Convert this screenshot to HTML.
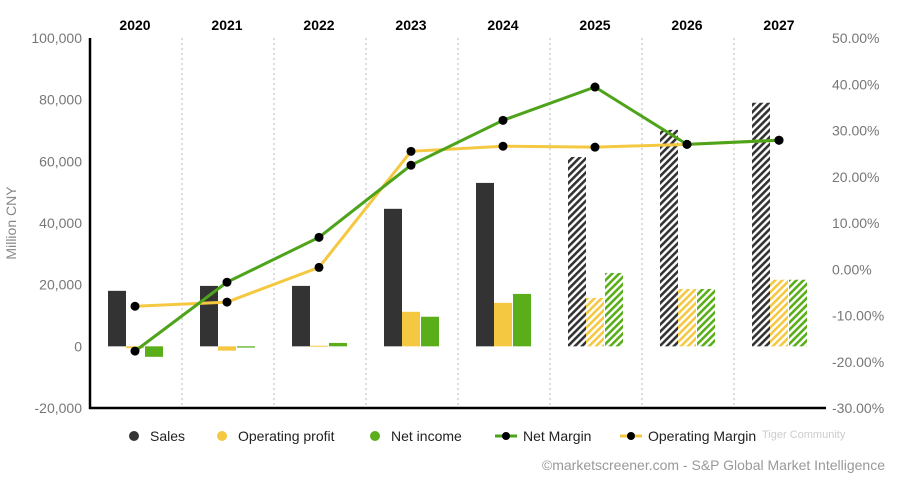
<!DOCTYPE html>
<html><head><meta charset="utf-8"><style>
html,body{margin:0;padding:0;background:#fff;}
svg{display:block;font-family:"Liberation Sans",Arial,sans-serif;}
</style></head><body>
<svg id="chart" width="897" height="483">
<defs>
<pattern id="hatchK" patternUnits="userSpaceOnUse" width="5" height="5" patternTransform="rotate(45)"><rect width="5" height="5" fill="#fff"/><rect width="2.6" height="5" fill="#333"/></pattern>
<pattern id="hatchY" patternUnits="userSpaceOnUse" width="5" height="5" patternTransform="rotate(45)"><rect width="5" height="5" fill="#fff"/><rect width="2.6" height="5" fill="#f5c842"/></pattern>
<pattern id="hatchG" patternUnits="userSpaceOnUse" width="5" height="5" patternTransform="rotate(45)"><rect width="5" height="5" fill="#fff"/><rect width="2.6" height="5" fill="#5aae1a"/></pattern>
</defs>
<g id="grid"></g><g id="bars"></g><g id="lines"></g><g id="axes"></g><g id="legend"></g>
</svg>
<script>
const categories=["2020","2021","2022","2023","2024","2025","2026","2027"];
const sales=[18000,19600,19600,44600,53000,61400,70200,79000];
const opProfit=[-600,-1400,200,11200,14100,15700,18600,21600];
const netIncome=[-3400,-400,1100,9600,17000,23800,18600,21600];
const netMargin=[-17.7,-2.8,6.9,22.5,32.2,39.4,27.0,27.9];
const opMargin=[-8.0,-7.1,0.4,25.5,26.6,26.4,27.0,27.9];
const estimated=[false,false,false,false,false,true,true,true];
const leftTicks=[-20000,0,20000,40000,60000,80000,100000];
const rightTicks=[-30,-20,-10,0,10,20,30,40,50];

const NS="http://www.w3.org/2000/svg";
const X0=90,X1=826,Y0=38,Y1=408;
const step=(X1-X0)/categories.length;
const xc=i=>X0+step*(i+0.5)-1;
const yL=v=>Y1-(v+20000)/120000*(Y1-Y0);
const yR=v=>Y1-(v+30)/80*(Y1-Y0);
function mk(tag,attrs,parent){const e=document.createElementNS(NS,tag);for(const k in attrs)e.setAttribute(k,attrs[k]);parent.appendChild(e);return e;}
const g=id=>document.getElementById(id);

// grid separators
for(let i=1;i<categories.length;i++){
  const l=mk('line',{x1:X0+step*i,x2:X0+step*i,y1:Y0,y2:Y1,stroke:'#bbb','stroke-dasharray':'2,3'},g('grid'));
  
  
}
// category labels
categories.forEach((c,i)=>{
  const t=mk('text',{x:xc(i),y:30,'text-anchor':'middle','font-size':14,'font-weight':'bold',fill:'#000'},g('axes'));
  t.textContent=c;
  
  
});
// bars
const bw=18;
function bar(i,v,off,solid,hatch,name){
  const y0=yL(0),y=yL(v);
  const r=mk('rect',{x:xc(i)+off-bw/2,y:Math.min(y0,y),width:bw,height:Math.max(1,Math.abs(y-y0)),fill:estimated[i]?'url(#'+hatch+')':solid},g('bars'));
  
  
}
categories.forEach((c,i)=>{
  bar(i,sales[i],-18,'#333','hatchK','sales');
  bar(i,opProfit[i],0,'#f5c842','hatchY','operating-profit');
  bar(i,netIncome[i],19,'#5aae1a','hatchG','net-income');
});
// lines
function line(vals,color,name){
  const pts=vals.map((v,i)=>xc(i)+','+yR(v)).join(' ');
  const p=mk('polyline',{points:pts,fill:'none',stroke:color,'stroke-width':3},g('lines'));
  
  
}
line(opMargin,'#f5c842','operating-margin');
line(netMargin,'#4da31a','net-margin');
[[netMargin,'net-margin'],[opMargin,'operating-margin']].forEach(([vals,n])=>{
  vals.forEach((v,i)=>{
    const c=mk('circle',{cx:xc(i),cy:yR(v),r:4.5,fill:'#000'},g('lines'));
    
    
  });
});
// axes
const la=mk('line',{x1:X0,x2:X0,y1:Y0,y2:Y1+1,stroke:'#000','stroke-width':2.5},g('axes'));


const ba=mk('line',{x1:X0-1,x2:X1,y1:Y1,y2:Y1,stroke:'#000','stroke-width':2.5},g('axes'));


leftTicks.forEach(v=>{
  const t=mk('text',{x:82,y:yL(v)+5,'text-anchor':'end','font-size':14,fill:'#777'},g('axes'));
  t.textContent=v.toLocaleString('en-US');
  
  
});
rightTicks.forEach(v=>{
  const t=mk('text',{x:832,y:yR(v)+5,'text-anchor':'start','font-size':14,fill:'#777'},g('axes'));
  t.textContent=v.toFixed(2)+'%';
  
  
});
const yt=mk('text',{x:16,y:223,'text-anchor':'middle','font-size':14,fill:'#888',transform:'rotate(-90 16 223)'},g('axes'));
yt.textContent='Million CNY';


// legend
const L=g('legend');
const items=[['Sales','#333',false,129],['Operating profit','#f5c842',false,217],['Net income','#5aae1a',false,370],['Net Margin','#4da31a',true,495],['Operating Margin','#f5c842',true,620]];
items.forEach(([label,color,isLine,x])=>{
  const grp=mk('g',{},L);
  
  
  if(isLine){
    mk('line',{x1:x,x2:x+22,y1:436,y2:436,stroke:color,'stroke-width':3},grp);
    mk('circle',{cx:x+11,cy:436,r:4,fill:'#000'},grp);
    const t=mk('text',{x:x+28,y:441,'font-size':14,fill:'#222'},grp);t.textContent=label;
  }else{
    mk('circle',{cx:x+5,cy:436,r:5,fill:color},grp);
    const t=mk('text',{x:x+21,y:441,'font-size':14,fill:'#222'},grp);t.textContent=label;
  }
});
const src=mk('text',{x:885,y:470,'text-anchor':'end','font-size':14,fill:'#999'},L);
src.textContent='©marketscreener.com - S&P Global Market Intelligence';


const wm=mk('text',{x:762,y:438,'font-size':11,fill:'#ccc'},L);
wm.textContent='Tiger Community';


</script>
</body></html>
